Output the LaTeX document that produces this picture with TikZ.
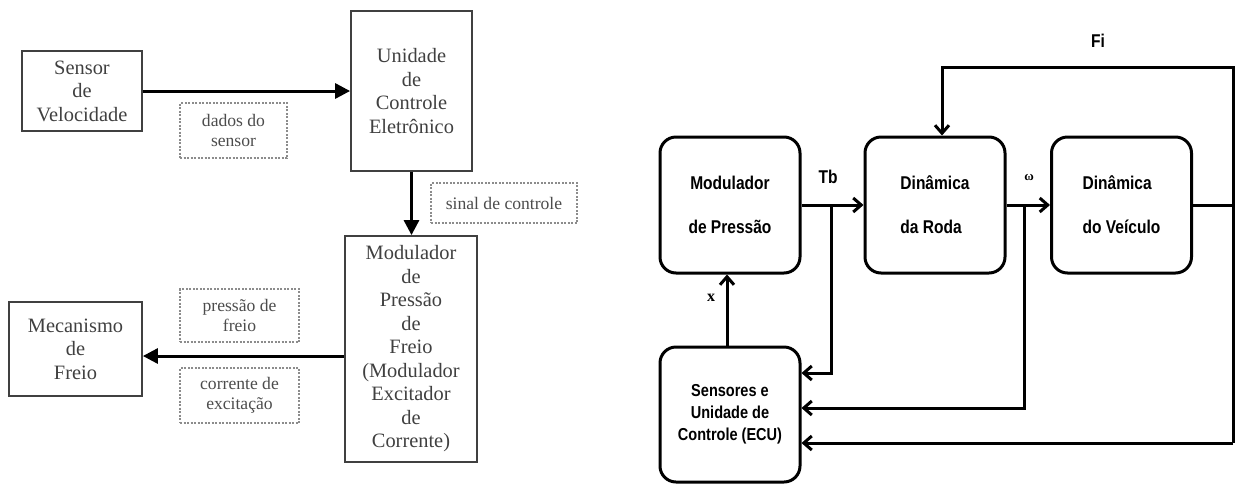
\documentclass[tikz,border=0pt]{standalone}
\usepackage{fontspec}
\setmainfont{Liberation Serif}
\newfontfamily\arialfont{Liberation Sans}[FakeStretch=0.84]
\usetikzlibrary{arrows.meta}

\begin{document}
\begin{tikzpicture}[x=1pt, y=-1pt,
        block/.style={draw=black!75, line width=1.8pt, rectangle, text=black!75, align=center, font=\fontsize{20.4}{23.5}\selectfont},
        tag/.style={draw=black!45, dash pattern=on 2pt off 1.5pt, line width=1.2pt, rectangle, text=black!70, align=center, font=\fontsize{17.6}{20}\selectfont},
        flow/.style={-{Triangle[length=15pt, width=15pt]}, line width=3pt},
        rblock/.style={draw, rounded corners=16pt, line width=3pt, rectangle, align=center, minimum width=140pt, minimum height=136pt, font=\arialfont\bfseries\fontsize{18.5}{44}\selectfont},
        sig/.style={-{Straight Barb[length=8pt, width=14pt]}, line width=3pt},
        wire/.style={line width=3pt}
    ]
    \useasboundingbox (0,0) rectangle (1235,483);

    % Left diagram blocks
    \node[block, minimum width=120pt, minimum height=80pt] (sensor) at (82,91) {Sensor\\de\\Velocidade};
    \node[block, minimum width=121pt, minimum height=160pt] (ecu1) at (411.5,91) {Unidade\\de\\Controle\\Eletrônico};
    \node[block, minimum width=132pt, minimum height=226pt] (modp) at (411,349) {Modulador\\de\\Pressão\\de\\Freio\\(Modulador\\Excitador\\de\\Corrente)};
    \node[block, minimum width=133pt, minimum height=94pt] (mec) at (75.5,349) {Mecanismo\\de\\Freio};

    % Dashed signal labels
    \node[tag, minimum width=107pt, minimum height=55pt] (dados) at (233.5,130.5) {dados do\\sensor};
    \node[tag, minimum width=146pt, minimum height=40pt] (sinal) at (504,203) {sinal de controle};
    \node[tag, minimum width=119pt, minimum height=53pt] (pressao) at (239.5,315.5) {pressão de\\freio};
    \node[tag, minimum width=119pt, minimum height=55pt] (corrente) at (239.5,395.5) {corrente de\\excitação};

    % Left arrows
    \draw[flow] (sensor.east) -- (ecu1.west |- sensor.east);
    \draw[flow] (ecu1.south) -- (ecu1.south |- modp.north);
    \draw[flow] ([yshift=-7pt]modp.west) -- ([yshift=-7pt]mec.east);

    % Right diagram blocks
    \node[rblock] (modr) at (730,205) {Modulador\\de Pressão};
    \node[rblock, align=left] (roda) at (935,205) {Dinâmica\\da Roda};
    \node[rblock, align=left] (veic) at (1121.5,205) {Dinâmica\\do Veículo};
    \node[rblock, minimum height=135pt, font=\arialfont\bfseries\fontsize{17.3}{22}\selectfont] (ecu) at (730,414.5) {Sensores e\\Unidade de\\Controle (ECU)};

    % Branch points
    \coordinate (tbsplit) at (831,205);
    \coordinate (wsplit) at (1024,205);
    \coordinate (vout) at (1233,205);
    \coordinate (fitop) at (1233,67);
    \coordinate (fibot) at (1233,443);
    \coordinate (fileft) at (942,67);

    % Right arrows
    \draw[sig] (modr.east) -- (roda.west);
    \draw[sig] (roda.east) -- (veic.west);
    \draw[wire] (veic.east) -- (vout);
    \draw[sig] (tbsplit) |- ([yshift=41.5pt]ecu.east);
    \draw[sig] (wsplit) |- ([yshift=6.5pt]ecu.east);
    \draw[sig] (fibot) -- (fitop) -- (fileft) -- (fileft |- roda.north);
    \draw[sig] (fibot) -- ([yshift=-28.5pt]ecu.east);
    \draw[sig] ([xshift=-3pt]ecu.north) -- ([xshift=-3pt]modr.south);

    % Signal names
    \node[font=\arialfont\bfseries\fontsize{18.5}{20}\selectfont] (tblab) at (828,177) {Tb};
    \node[font=\bfseries\fontsize{13}{15}\selectfont] (wlab) at (1029,177) {ω};
    \node[font=\arialfont\bfseries\fontsize{18.5}{20}\selectfont] (filab) at (1098,41) {Fi};
    \node[font=\bfseries\fontsize{16}{18}\selectfont] (xlab) at (711,298) {x};

\end{tikzpicture}
\end{document}
